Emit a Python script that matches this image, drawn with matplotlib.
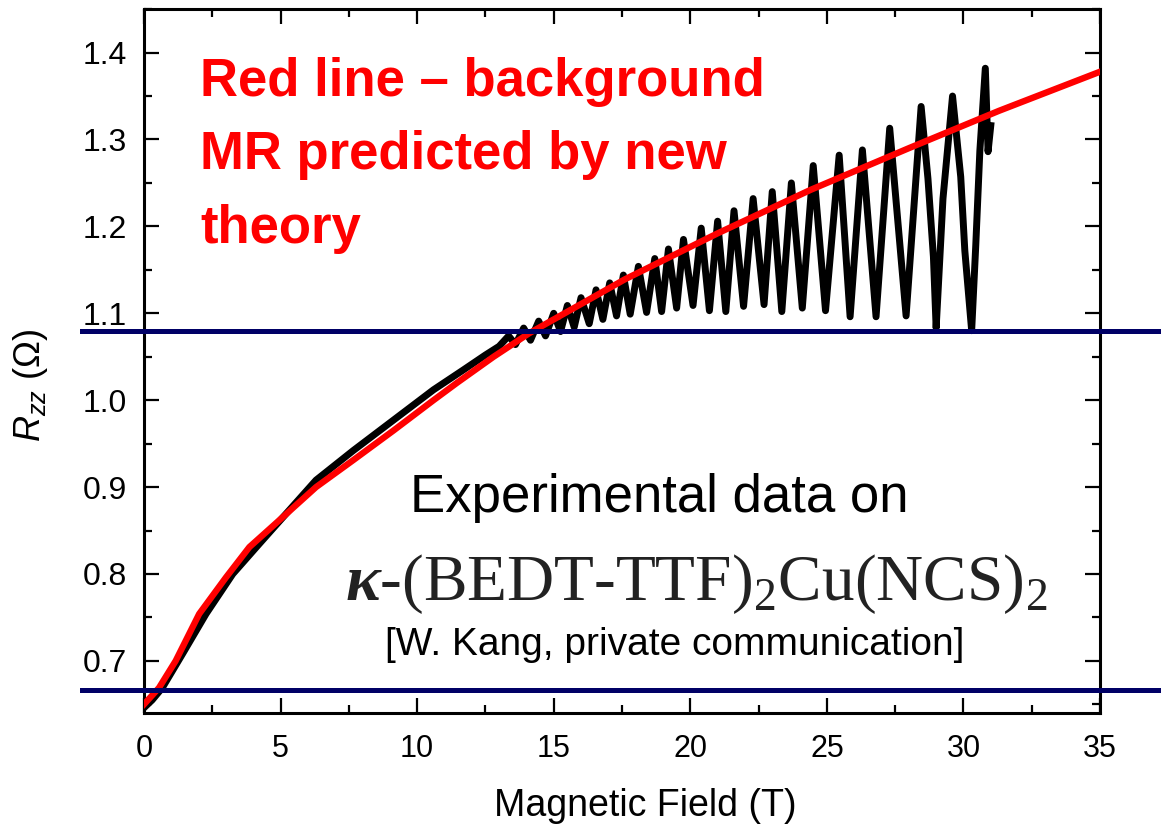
import matplotlib.pyplot as plt
from matplotlib.ticker import MultipleLocator

plt.rcParams['mathtext.fontset'] = 'custom'
plt.rcParams['mathtext.rm'] = 'Liberation Serif'
plt.rcParams['mathtext.it'] = 'Liberation Sans:italic'
plt.rcParams['mathtext.bf'] = 'Liberation Serif:bold'
plt.rcParams['mathtext.bfit'] = 'Liberation Serif:italic:bold'

# experimental R_zz(B) (smooth part, then SdH extrema)
field_exp = [0.0, 0.3, 0.67, 1.41, 2.27, 3.25, 4.23, 5.08, 6.3, 7.66, 9.13, 10.6, 11.7, 12.5,
             13.0, 13.35, 13.6, 13.9, 14.15, 14.45, 14.7, 15.0, 15.25, 15.5, 15.75, 16.0,
             16.3, 16.55, 16.8, 17.05, 17.3, 17.55, 17.8, 18.1, 18.4, 18.7, 18.95, 19.2,
             19.5, 19.75, 20.1, 20.4, 20.7, 21.0, 21.3, 21.6, 21.95, 22.3, 22.7, 23.0,
             23.35, 23.7, 24.1, 24.5, 24.95, 25.45, 25.85, 26.3, 26.8, 27.3, 27.9, 28.45,
             28.7, 28.9, 29.0, 29.25, 29.6, 29.9, 30.05, 30.3, 30.45, 30.6, 30.8, 30.9, 31.0]
r_exp = [0.646, 0.655, 0.669, 0.708, 0.754, 0.800, 0.835, 0.865, 0.908, 0.942, 0.977, 1.012,
         1.035, 1.052,
         1.062, 1.074, 1.064, 1.083, 1.069, 1.091, 1.074, 1.100, 1.079, 1.109, 1.084, 1.118,
         1.088, 1.127, 1.093, 1.135, 1.097, 1.144, 1.099, 1.154, 1.101, 1.163, 1.102, 1.174,
         1.106, 1.185, 1.109, 1.198, 1.103, 1.206, 1.102, 1.218, 1.108, 1.232, 1.110, 1.240,
         1.102, 1.250, 1.106, 1.270, 1.103, 1.282, 1.096, 1.288, 1.096, 1.313, 1.097, 1.338,
         1.255, 1.165, 1.083, 1.232, 1.350, 1.257, 1.172, 1.080, 1.178, 1.287, 1.382, 1.286, 1.316]

# background MR from the new theory
field_th = [0, 0.55, 1.16, 2.02, 3.0, 3.86, 4.96, 6.3, 7.66, 9.13, 10.6, 11.46, 12.8, 14.1,
            17.6, 21, 24.4, 28, 31.3, 35]
r_th = [0.650, 0.669, 0.700, 0.754, 0.796, 0.831, 0.862, 0.900, 0.931, 0.965, 1.000, 1.020,
        1.050, 1.077, 1.139, 1.192, 1.242, 1.290, 1.333, 1.378]

# horizontal guide levels
guide_levels = [1.08, 0.666]

fig = plt.figure(figsize=(11.61, 8.32), dpi=100)
ax = fig.add_axes([0.124, 0.143, 0.8235, 0.846])

ax.plot(field_exp, r_exp, color='black', lw=5, solid_joinstyle='round', zorder=2)
ax.plot(field_th, r_th, color='#ff0000', lw=4.6, zorder=3)
for lev in guide_levels:
    ax.axhline(lev, xmin=-0.065, xmax=1.07, color='#000066', lw=3.6, clip_on=False, zorder=4)

ax.set_xlim(0, 35)
ax.set_ylim(0.64, 1.45)
ax.xaxis.set_major_locator(MultipleLocator(5))
ax.xaxis.set_minor_locator(MultipleLocator(2.5))
ax.yaxis.set_minor_locator(MultipleLocator(0.05))
ax.set_yticks([0.7, 0.8, 0.9, 1.0, 1.1, 1.2, 1.3, 1.4])
ax.set_yticklabels(['0.7', '0.8', '0.9', '1.0', '1.1', '1.2', '1.3', '1.4'])
ax.tick_params(which='both', direction='in', top=True, right=True, width=1.6)
ax.tick_params(which='major', length=11)
ax.tick_params(which='minor', length=5.8)
ax.tick_params(axis='x', pad=15, labelsize=22)
ax.tick_params(axis='y', pad=12, labelsize=23)
for lab in ax.get_xticklabels() + ax.get_yticklabels():
    lab.set_family('Liberation Sans')
for sp in ax.spines.values():
    sp.set_linewidth(2.2)

ax.set_xlabel('Magnetic Field (T)', family='Liberation Sans', size=27)
ax.xaxis.set_label_coords(0.524, -0.107)
ax.set_ylabel(r'$R_{zz}$ (Ω)', family='Liberation Sans', size=26)
ax.yaxis.set_label_coords(-0.098, 0.466)

ax.text(0.059, 0.932, 'Red line \u2013 background\nMR predicted by new\ntheory',
        transform=ax.transAxes, color='#ff0000', family='Liberation Sans', weight='bold',
        size=38, linespacing=1.6, va='top', ha='left')
ax.text(0.278, 0.285, 'Experimental data on', transform=ax.transAxes,
        family='Liberation Sans', size=38, ha='left', va='baseline')
ax.text(0.21, 0.16, r'$\mathbfit{\kappa}$-(BEDT-TTF)$_2$Cu(NCS)$_2$', transform=ax.transAxes,
        family='Liberation Serif', size=47, color='#222222', ha='left', va='baseline')
ax.text(0.252, 0.082, '[W. Kang, private communication]', transform=ax.transAxes,
        family='Liberation Sans', size=28, ha='left', va='baseline')

fig.savefig('out.png', dpi=100)
